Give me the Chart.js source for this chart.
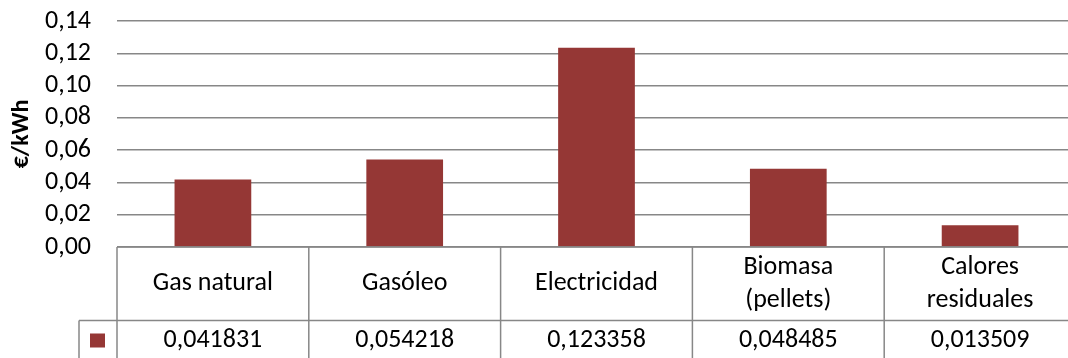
<!DOCTYPE html>
<html>
<head>
<meta charset="utf-8">
<script src="https://cdn.jsdelivr.net/npm/chart.js@4.4.1/dist/chart.umd.min.js"></script>
<style>
  html, body { margin: 0; padding: 0; background: #fff; overflow: hidden; width: 1068px; height: 358px; }
  #wrap { position: relative; width: 1090px; height: 400px; }
</style>
</head>
<body>
<div id="wrap"><canvas id="c" width="1090" height="400"></canvas></div>
<script>
// Energy cost per source (€/kWh)
const categories = [
  ["Gas natural"],
  ["Gasóleo"],
  ["Electricidad"],
  ["Biomasa", "(pellets)"],
  ["Calores", "residuales"]
];
const values = [0.041831, 0.054218, 0.123358, 0.048485, 0.013509];
const axisTitle = "€/kWh";
const yMin = 0, yMax = 0.14, yStep = 0.02;

const BAR_COLOR = "#953735";
const LINE_COLOR = "#878787";
const FONT = '"Carlito", "Lato", sans-serif';
const FONT_SIZE = 26;

const fmtValue = v => v.toFixed(6).replace(".", ",");
const fmtTick = v => Number(v).toFixed(2).replace(".", ",");

// Data table drawn under the plot: category row, then value row with the series key
const dataTable = {
  id: "dataTable",
  afterDraw(chart) {
    const { ctx, chartArea, scales } = chart;
    const xs = scales.x;
    const n = categories.length;
    const left = chartArea.left, right = chartArea.right;
    const colW = (right - left) / n;
    const top = chartArea.bottom;
    const rowSep = top + 73.5;
    const bottom = rowSep + 40;
    const keyLeft = 79;

    ctx.save();
    ctx.strokeStyle = LINE_COLOR;
    ctx.lineWidth = 1.5;
    const line = (x1, y1, x2, y2) => { ctx.beginPath(); ctx.moveTo(x1, y1); ctx.lineTo(x2, y2); ctx.stroke(); };
    line(left, top, right, top);
    line(keyLeft, rowSep, right, rowSep);
    line(keyLeft, bottom, right, bottom);
    for (let i = 0; i <= n; i++) {
      const xb = left + i * colW;
      line(xb, top, xb, bottom);
    }
    line(keyLeft, rowSep, keyLeft, bottom);

    ctx.fillStyle = "#000";
    ctx.font = FONT_SIZE + "px " + FONT;
    ctx.textAlign = "center";
    ctx.textBaseline = "middle";
    const lh = 33;
    categories.forEach((lines, i) => {
      const cx = xs.getPixelForValue(i);
      const y0 = (top + rowSep) / 2 - (lines.length - 1) * lh / 2;
      lines.forEach((t, j) => ctx.fillText(t, cx, y0 + j * lh));
      ctx.fillText(fmtValue(values[i]), cx, (rowSep + bottom) / 2);
    });

    const kx = (keyLeft + left) / 2, ky = (rowSep + bottom) / 2;
    ctx.fillStyle = BAR_COLOR;
    ctx.fillRect(kx - 8, ky - 7, 15, 14);
    ctx.restore();
  }
};

new Chart(document.getElementById("c"), {
  type: "bar",
  data: {
    labels: categories,
    datasets: [{
      data: values,
      backgroundColor: BAR_COLOR,
      barPercentage: 0.4,
      categoryPercentage: 1
    }]
  },
  options: {
    responsive: false,
    devicePixelRatio: 1,
    animation: false,
    layout: { padding: { left: 0, top: 21, right: 14, bottom: 153 } },
    plugins: { legend: { display: false }, tooltip: { enabled: false } },
    scales: {
      x: { display: false },
      y: {
        min: yMin, max: yMax,
        afterFit(s) { s.width = 117; s.paddingTop = 0; s.paddingBottom = 0; },
        border: { display: false },
        grid: { color: LINE_COLOR, lineWidth: 1.5, drawTicks: false },
        ticks: {
          stepSize: yStep,
          autoSkip: false,
          padding: 26,
          color: "#000",
          font: { family: FONT, size: FONT_SIZE },
          callback: v => fmtTick(v)
        },
        title: {
          display: true,
          text: axisTitle,
          color: "#000",
          font: { family: FONT, size: FONT_SIZE - 2, weight: "bold" },
          padding: { top: 8, bottom: 0 }
        }
      }
    }
  },
  plugins: [dataTable]
});
</script>
</body>
</html>
